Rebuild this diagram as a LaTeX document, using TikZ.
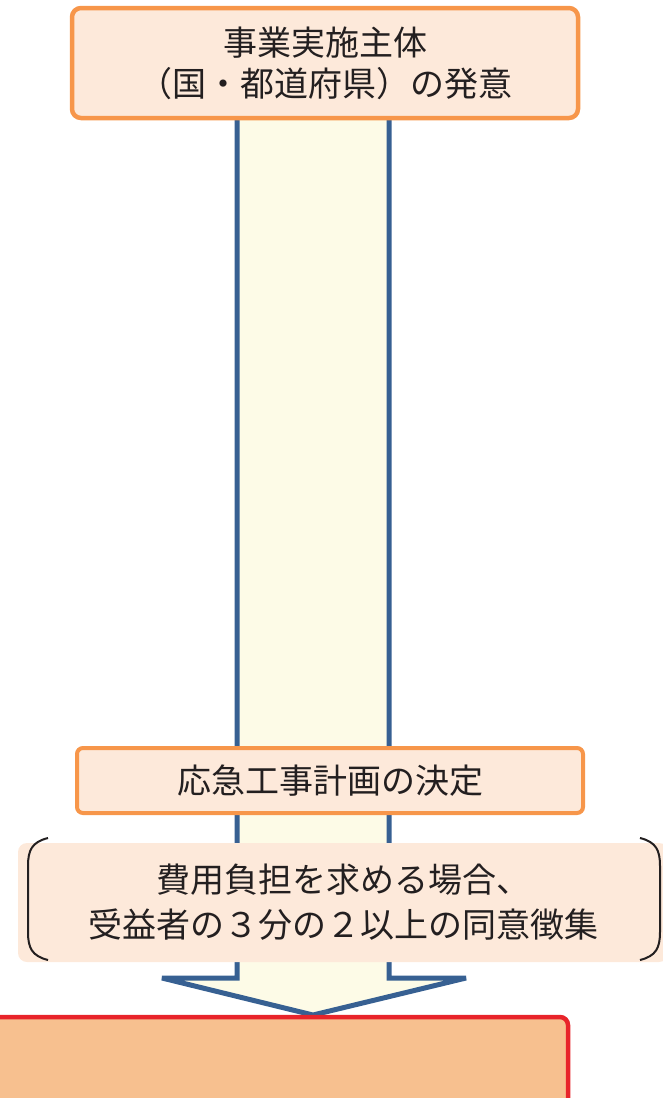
\documentclass[tikz,border=0pt]{standalone}
\usepackage{fontspec}
\newfontfamily\jp{Noto Sans CJK JP}
\definecolor{orangeline}{HTML}{F7964A}
\definecolor{boxfill}{HTML}{FDE9DA}
\definecolor{shaftblue}{HTML}{376092}
\definecolor{shaftfill}{HTML}{FDFBE7}
\definecolor{redline}{HTML}{E8242A}
\definecolor{resultfill}{HTML}{F7C08F}
\definecolor{textc}{HTML}{231F20}
\tikzset{
  jptext/.style={font=\jp\fontsize{34}{41}\selectfont, text=textc, align=center},
  stagebox/.style={draw=orangeline, fill=boxfill, rounded corners=9pt, inner sep=0pt},
}
\begin{document}
\begin{tikzpicture}[x=1pt,y=-1pt]
\useasboundingbox (0,0) rectangle (663,1098);
% big arrow
\draw[draw=shaftblue, fill=shaftfill, line width=5pt, line join=miter, miter limit=2]
  (237,110) -- (237,978) -- (162,978) -- (313,1015) -- (466,978) -- (389,978) -- (389,110);
% result box (cut off)
\node[draw=redline, fill=resultfill, line width=4.5pt, rounded corners=8pt,
      minimum width=580pt, minimum height=100pt, inner sep=0pt] (result) at (278,1067) {};
% top box
\node[stagebox, line width=4.5pt, minimum width=506pt, minimum height=110pt,
      jptext] (top) at (325,63) {事業実施主体\\（国・都道府県）の発意};
% middle box
\node[stagebox, line width=4pt, rounded corners=6pt, minimum width=506pt, minimum height=65pt,
      jptext] (plan) at (330,780.5) {応急工事計画の決定};
% condition box
\node[fill=boxfill, rounded corners=9pt, minimum width=650pt, minimum height=119pt,
      inner sep=0pt, jptext, font=\jp\fontsize{34}{45}\selectfont] (cond) at (343,902.5)
      {費用負担を求める場合、\\受益者の３分の２以上の同意徴集};
% brackets
\draw[line width=2pt, textc] (48,838) .. controls (32,842) and (28,850) .. (28,866)
  -- (28,932) .. controls (28,948) and (32,956) .. (48,960);
\draw[line width=2pt, textc] (640,838) .. controls (656,842) and (660,850) .. (660,866)
  -- (660,932) .. controls (660,948) and (656,956) .. (640,960);
\end{tikzpicture}
\end{document}
